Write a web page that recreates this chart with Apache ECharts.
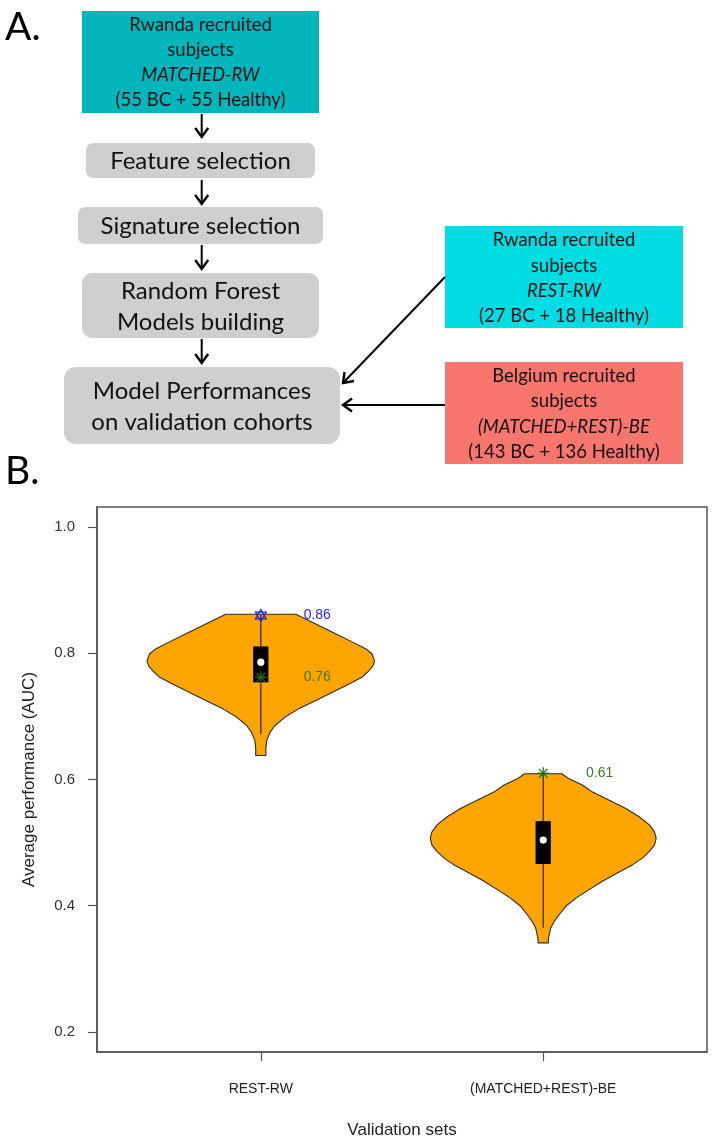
<!DOCTYPE html>
<html>
<head>
<meta charset="utf-8">
<script src="https://cdn.jsdelivr.net/npm/echarts@6/dist/echarts.min.js"></script>
<style>
html,body{margin:0;padding:0;background:#fff;}
#chart{width:712px;height:1140px;}
</style>
</head>
<body>
<div id="chart"></div>
<script>
// ---------- DATA ----------
const categories = ['REST-RW', '(MATCHED+REST)-BE'];
const yTicks = [0.2, 0.4, 0.6, 0.8, 1.0];

// violin outlines: AUC value and half-width (in x-axis units)
const violin1Values = [0.862,0.849,0.833,0.817,0.806,0.799,0.788,0.780,0.772,0.762,0.751,0.738,0.725,0.712,0.699,0.686,0.675,0.662,0.649,0.638];
const violin1HalfWidth = [0.124,0.184,0.256,0.329,0.376,0.394,0.403,0.397,0.382,0.358,0.311,0.252,0.193,0.134,0.086,0.051,0.033,0.021,0.018,0.018];
const violin2Values = [0.609,0.601,0.591,0.580,0.567,0.554,0.541,0.528,0.517,0.507,0.496,0.486,0.475,0.465,0.452,0.439,0.425,0.412,0.399,0.386,0.375,0.365,0.349,0.341];
const violin2HalfWidth = [0.066,0.092,0.140,0.175,0.234,0.293,0.340,0.376,0.394,0.400,0.394,0.376,0.350,0.317,0.264,0.211,0.161,0.116,0.080,0.057,0.039,0.027,0.019,0.018];

const boxQ1 = [0.754, 0.466];
const boxQ3 = [0.811, 0.534];
const medians = [0.786, 0.504];
const whiskerLow = [0.672, 0.365];
const whiskerHigh = [0.862, 0.609];

const blueStarValues = [0.86, null];
const blueStarLabels = ['0.86', null];
const greenStarValues = [0.762, 0.61];
const greenStarLabels = ['0.76', '0.61'];

// ---------- FLOWCHART (panel A) ----------
const FF = 'Lato, "Open Sans", sans-serif';
const graphics = [];
function box(x, y, w, h, fill, r) {
  graphics.push({type:'rect', shape:{x:x, y:y, width:w, height:h, r:r||0}, style:{fill:fill}, silent:true});
}
function txt(x, y, s, size, italic, color, align) {
  graphics.push({type:'text', x:x, y:y, silent:true, style:{
    text:s, fill:color||'#111', fontSize:size, fontFamily:FF, fontStyle: italic?'italic':'normal',
    align: align||'center', verticalAlign:'middle', textAlign: align||'center', textVerticalAlign:'middle'}});
}
function arrow(x1, y1, x2, y2) {
  const dx = x2-x1, dy = y2-y1, L = Math.sqrt(dx*dx+dy*dy);
  const ux = dx/L, uy = dy/L, nx = -uy, ny = ux;
  const hl = 9, hw = 6.5;
  graphics.push({type:'line', shape:{x1:x1,y1:y1,x2:x2-ux*1,y2:y2-uy*1}, style:{stroke:'#000', lineWidth:2}, silent:true});
  graphics.push({type:'polyline', shape:{points:[[x2-ux*hl+nx*hw, y2-uy*hl+ny*hw],[x2,y2],[x2-ux*hl-nx*hw, y2-uy*hl-ny*hw]]},
    style:{stroke:'#000', lineWidth:2.4, fill:null}, silent:true});
}

txt(5, 27, 'A.', 39, false, '#000', 'left');
txt(5, 471, 'B.', 39, false, '#000', 'left');

box(82, 11, 237, 102, '#00B5BC');
txt(200.5, 25, 'Rwanda recruited', 18.5);
txt(200.5, 50, 'subjects', 18.5);
txt(200.5, 75, 'MATCHED-RW', 18.5, true);
txt(200.5, 100, '(55 BC + 55 Healthy)', 18.5);

box(86, 143, 229, 35, '#D0CECE', 7);
txt(200.5, 161, 'Feature selection', 24);
box(78, 207, 245, 37, '#D0CECE', 7);
txt(200.5, 226, 'Signature selection', 24);
box(82, 273, 237, 65, '#D0CECE', 10);
txt(200.5, 291, 'Random Forest', 24);
txt(200.5, 322, 'Models building', 24);
box(64, 367, 276, 77, '#D0CECE', 12);
txt(202, 391, 'Model Performances', 24);
txt(202, 422, 'on validation cohorts', 24);

box(445, 226, 238, 102, '#00DCE3');
txt(564, 240, 'Rwanda recruited', 18.5);
txt(564, 266, 'subjects', 18.5);
txt(564, 291, 'REST-RW', 18.5, true);
txt(564, 316, '(27 BC + 18 Healthy)', 18.5);

box(445, 362, 238, 102, '#F8766D');
txt(564, 376, 'Belgium recruited', 18.5);
txt(564, 401, 'subjects', 18.5);
txt(564, 427, '(MATCHED+REST)-BE', 18.5, true);
txt(564, 452, '(143 BC + 136 Healthy)', 18.5);

arrow(201.7, 114, 201.7, 137);
arrow(201.7, 180, 201.7, 204);
arrow(201.7, 245, 201.7, 269);
arrow(201.7, 339, 201.7, 363);
arrow(445, 277, 343, 383);
arrow(445, 405, 343, 405);

// ---------- VIOLIN PLOT (panel B) ----------
const profilesV = [violin1Values, violin2Values];
const profilesW = [violin1HalfWidth, violin2HalfWidth];
const AX = '"Liberation Sans", Arial, sans-serif';

function renderViolin(params, api) {
  const i = params.dataIndex;
  const cx = api.value(0);
  const vals = profilesV[i], hws = profilesW[i];
  const pts = [];
  for (let k = 0; k < vals.length; k++) pts.push(api.coord([cx - hws[k], vals[k]]));
  for (let k = vals.length - 1; k >= 0; k--) pts.push(api.coord([cx + hws[k], vals[k]]));
  const children = [];
  children.push({type:'polygon', shape:{points:pts}, style:{fill:'#FFA500', stroke:'#2b2b2b', lineWidth:1.1, lineJoin:'round'}});
  const wl = api.coord([cx, whiskerLow[i]]), wh = api.coord([cx, whiskerHigh[i]]);
  children.push({type:'line', shape:{x1:wl[0], y1:wl[1], x2:wh[0], y2:wh[1]}, style:{stroke:'#222', lineWidth:1.2}});
  const b1 = api.coord([cx - 0.027, boxQ3[i]]), b2 = api.coord([cx + 0.027, boxQ1[i]]);
  children.push({type:'rect', shape:{x:b1[0], y:b1[1], width:b2[0]-b1[0], height:b2[1]-b1[1]}, style:{fill:'#000'}});
  const m = api.coord([cx, medians[i]]);
  children.push({type:'circle', shape:{cx:m[0], cy:m[1], r:3.6}, style:{fill:'#fff'}});
  if (blueStarValues[i] != null) {
    const p = api.coord([cx, blueStarValues[i]]);
    const s = 6, h = 3.4, w = 5.4;
    children.push({type:'polygon', shape:{points:[[p[0],p[1]-s],[p[0]-w,p[1]+h],[p[0]+w,p[1]+h]]}, style:{fill:null, stroke:'#1f1fe0', lineWidth:1.2}});
    children.push({type:'polygon', shape:{points:[[p[0],p[1]+s],[p[0]-w,p[1]-h],[p[0]+w,p[1]-h]]}, style:{fill:null, stroke:'#1f1fe0', lineWidth:1.2}});
    const t = api.coord([cx + 0.2, blueStarValues[i]]);
    children.push({type:'text', x:t[0], y:t[1], style:{text:blueStarLabels[i], fill:'#2a2ae6', fontSize:14, fontFamily:AX, align:'center', verticalAlign:'middle'}});
  }
  if (greenStarValues[i] != null) {
    const p = api.coord([cx, greenStarValues[i]]);
    const r = 6, d = 4.3;
    const segs = [[-r,0,r,0],[0,-r,0,r],[-d,-d,d,d],[-d,d,d,-d]];
    segs.forEach(sg => children.push({type:'line', shape:{x1:p[0]+sg[0], y1:p[1]+sg[1], x2:p[0]+sg[2], y2:p[1]+sg[3]}, style:{stroke:'#1e6b1e', lineWidth:1.3}}));
    const t = api.coord([cx + 0.2, greenStarValues[i]]);
    children.push({type:'text', x:t[0], y:t[1], style:{text:greenStarLabels[i], fill:'#3a7a22', fontSize:14, fontFamily:AX, align:'center', verticalAlign:'middle'}});
  }
  return {type:'group', children:children};
}

const chart = echarts.init(document.getElementById('chart'), null, {renderer:'canvas'});
chart.setOption({
  animation:false,
  backgroundColor:'#fff',
  grid:{left:97, right:5, top:507, bottom:85, show:true, borderColor:'#555', borderWidth:1.5, containLabel:false},
  xAxis:{
    type:'value', min:0.42, max:2.58,
    name:'Validation sets', nameLocation:'middle', nameGap:70,
    nameTextStyle:{fontSize:17, fontFamily:AX, color:'#222'},
    axisLine:{show:true, lineStyle:{color:'#555', width:1.5}},
    axisTick:{show:true, length:9, lineStyle:{color:'#555', width:1.2}, customValues:[1,2]},
    axisLabel:{fontSize:14, fontFamily:AX, color:'#222', margin:30, customValues:[1,2],
      formatter: v => categories[Math.round(v)-1] || ''},
    splitLine:{show:false}
  },
  yAxis:{
    type:'value', min:0.168, max:1.032,
    name:'Average performance (AUC)', nameLocation:'middle', nameGap:59,
    nameTextStyle:{fontSize:17, fontFamily:AX, color:'#222'},
    axisLine:{show:true, lineStyle:{color:'#555', width:1.5}},
    axisTick:{show:true, length:9, lineStyle:{color:'#555', width:1.2}, customValues:yTicks},
    axisLabel:{fontSize:15, fontFamily:AX, color:'#333', margin:22, customValues:yTicks,
      formatter: v => v.toFixed(1)},
    splitLine:{show:false}
  },
  graphic: graphics,
  series:[{
    type:'custom',
    renderItem: renderViolin,
    data: categories.map((c, i) => [i + 1, medians[i]]),
    encode:{x:0, y:1},
    clip:false,
    silent:true
  }]
});
</script>
</body>
</html>
